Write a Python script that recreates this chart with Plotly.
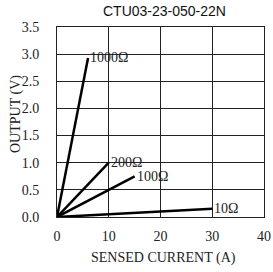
import plotly.graph_objects as go

# Data
series_names = ["1000Ω", "200Ω", "100Ω", "10Ω"]
current_a = [[0, 6.0], [0, 10.0], [0, 15.0], [0, 30.0]]
output_v = [[0, 2.93], [0, 1.0], [0, 0.75], [0, 0.15]]
x_ticks = [0, 10, 20, 30, 40]
y_ticks = [0.0, 0.5, 1.0, 1.5, 2.0, 2.5, 3.0, 3.5]

serif = "Liberation Serif, Times New Roman, serif"
sans = "Liberation Sans, Arial, sans-serif"

fig = go.Figure()
for name, xs, ys in zip(series_names, current_a, output_v):
    fig.add_trace(go.Scatter(x=xs, y=ys, mode="lines", name=name,
                             line=dict(color="black", width=2.5),
                             showlegend=False))
    fig.add_annotation(x=xs[-1], y=ys[-1], text=name, showarrow=False,
                       xanchor="left", yanchor="middle", xshift=0,
                       font=dict(family=serif, size=14, color="#222"))

fig.update_layout(
    width=273, height=272,
    margin=dict(l=57, r=9, t=27, b=55, autoexpand=False),
    paper_bgcolor="white", plot_bgcolor="white",
    showlegend=False,
)
fig.update_xaxes(range=[0, 40], tickvals=x_ticks, ticktext=[str(v) for v in x_ticks],
                 showgrid=True, gridcolor="#222", gridwidth=1, automargin=False,
                 showline=True, linecolor="#222", linewidth=1, mirror=True,
                 zeroline=False, ticks="outside", ticklen=6, tickcolor="rgba(0,0,0,0)",
                 tickfont=dict(family=serif, size=14, color="#222"))
fig.update_yaxes(range=[0, 3.5], tickvals=y_ticks, ticktext=[f"{v:.1f}" for v in y_ticks],
                 showgrid=True, gridcolor="#222", gridwidth=1, automargin=False,
                 showline=True, linecolor="#222", linewidth=1, mirror=True,
                 zeroline=False, ticks="outside", ticklen=14, tickcolor="rgba(0,0,0,0)",
                 tickfont=dict(family=serif, size=14, color="#222"))

fig.add_annotation(text="CTU03-23-050-22N", xref="paper", yref="paper", x=0.5, y=1,
                   xanchor="center", yanchor="bottom", yshift=6, xshift=4, showarrow=False,
                   font=dict(family=sans, size=14, color="#111"))
fig.add_annotation(text="SENSED CURRENT (A)", xref="paper", yref="paper", x=0.5, y=0,
                   xanchor="center", yanchor="middle", yshift=-41, xshift=3, showarrow=False,
                   font=dict(family=serif, size=14, color="#222"))
fig.add_annotation(text="OUTPUT (V)", xref="paper", yref="paper", x=0, y=0.5,
                   xanchor="center", yanchor="middle", xshift=-41, yshift=8, textangle=-90,
                   showarrow=False, font=dict(family=serif, size=14, color="#222"))

fig.write_html("out.html", config={"displayModeBar": False},
               post_script="document.body.style.margin='0';")
